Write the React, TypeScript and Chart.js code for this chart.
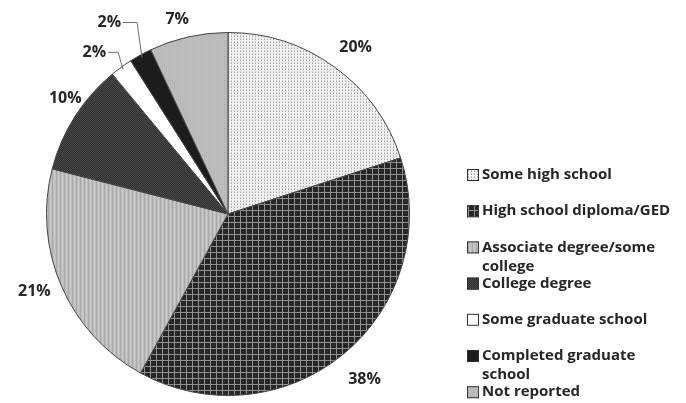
import React, { useEffect, useRef } from 'react';
import { Chart, registerables } from 'chart.js';

Chart.register(...registerables);

// ---- data ----
const categories = [
  'Some high school',
  'High school diploma/GED',
  'Associate degree/some college',
  'College degree',
  'Some graduate school',
  'Completed graduate school',
  'Not reported',
];
const legendLines = [
  ['Some high school'],
  ['High school diploma/GED'],
  ['Associate degree/some', 'college'],
  ['College degree'],
  ['Some graduate school'],
  ['Completed graduate', 'school'],
  ['Not reported'],
];
const values = [20, 38, 21, 10, 2, 2, 7];
const valueLabels = ['20%', '38%', '21%', '10%', '2%', '2%', '7%'];

// ---- styling ----
const labelRadius = [1.155, 1.18, 1.15, 1.1, 1.077, 1.168, 1.11];
const labelShiftDeg = [1.5, 0, 1.5, 3, 1.8, 3.4, -2];
const leaderLen = [0, 0, 0, 0, 10, 14, 0];
const FONT = '"Open Sans", Lato, sans-serif';
const TEXT = '#262626';

function tile(w: number, h: number, draw: (c: CanvasRenderingContext2D) => void): CanvasPattern | string {
  const cv = document.createElement('canvas');
  cv.width = w;
  cv.height = h;
  const c = cv.getContext('2d')!;
  draw(c);
  const ctx = document.createElement('canvas').getContext('2d')!;
  return ctx.createPattern(cv, 'repeat') || '#ccc';
}

function makePatterns() {
  return [
    tile(3, 3, (c) => {
      c.fillStyle = '#f1f1f1';
      c.fillRect(0, 0, 3, 3);
      c.fillStyle = '#a4a4a4';
      c.fillRect(0, 0, 1, 1);
      c.fillStyle = '#cccccc';
      c.fillRect(0, 2, 1, 1);
    }),
    tile(6, 6, (c) => {
      c.fillStyle = '#262626';
      c.fillRect(0, 0, 6, 6);
      c.fillStyle = '#909090';
      c.fillRect(0, 0, 1, 6);
      c.fillRect(0, 0, 6, 1);
    }),
    tile(4, 4, (c) => {
      c.fillStyle = '#bebebe';
      c.fillRect(0, 0, 4, 4);
      c.fillStyle = '#a8a8a8';
      c.fillRect(0, 0, 1, 4);
      c.fillStyle = '#c8c8c8';
      c.fillRect(2, 0, 1, 4);
    }),
    tile(2, 2, (c) => {
      c.fillStyle = '#2e2e2e';
      c.fillRect(0, 0, 2, 2);
      c.fillStyle = '#4a4a4a';
      c.fillRect(0, 0, 1, 1);
      c.fillRect(1, 1, 1, 1);
    }),
    '#ffffff',
    '#1c1c1c',
    tile(2, 2, (c) => {
      c.fillStyle = '#bdbdbd';
      c.fillRect(0, 0, 2, 2);
      c.fillStyle = '#b3b3b3';
      c.fillRect(0, 0, 1, 1);
    }),
  ];
}

const labelPlugin = {
  id: 'pctLabels',
  afterDatasetsDraw(chart: any) {
    const meta = chart.getDatasetMeta(0);
    const ctx: CanvasRenderingContext2D = chart.ctx;
    ctx.save();
    ctx.font = `bold 16px ${FONT}`;
    ctx.fillStyle = TEXT;
    ctx.textBaseline = 'middle';
    meta.data.forEach((arc: any, i: number) => {
      const p = arc.getProps(['x', 'y', 'startAngle', 'endAngle', 'outerRadius'], true);
      const mid = (p.startAngle + p.endAngle) / 2;
      const ang = mid + (labelShiftDeg[i] * Math.PI) / 180;
      const r = p.outerRadius * labelRadius[i];
      const lx = p.x + Math.cos(ang) * r;
      const ly = p.y + Math.sin(ang) * r;
      if (leaderLen[i]) {
        const ex = p.x + Math.cos(mid) * (p.outerRadius - 3);
        const ey = p.y + Math.sin(mid) * (p.outerRadius - 3);
        ctx.strokeStyle = '#707070';
        ctx.lineWidth = 1;
        ctx.beginPath();
        ctx.moveTo(ex, ey);
        ctx.lineTo(lx, ly);
        ctx.lineTo(lx - leaderLen[i], ly);
        ctx.stroke();
        ctx.textAlign = 'right';
        ctx.fillText(valueLabels[i], lx - leaderLen[i] - 2, ly);
      } else {
        ctx.textAlign = 'center';
        ctx.fillText(valueLabels[i], lx, ly);
      }
    });
    ctx.restore();
  },
};

function legendPlugin(patterns: (CanvasPattern | string)[]) {
  return {
    id: 'sideLegend',
    afterDraw(chart: any) {
      const ctx: CanvasRenderingContext2D = chart.ctx;
      ctx.save();
      ctx.font = `bold 15px ${FONT}`;
      ctx.textBaseline = 'middle';
      ctx.textAlign = 'left';
      const x0 = 467;
      const y0 = 175;
      const step = 36.2;
      legendLines.forEach((lines, i) => {
        const y = y0 + i * step;
        ctx.fillStyle = patterns[i] as any;
        ctx.fillRect(x0, y - 6, 12, 12);
        ctx.strokeStyle = '#333';
        ctx.lineWidth = 1;
        ctx.strokeRect(x0 + 0.5, y - 5.5, 11, 11);
        ctx.fillStyle = TEXT;
        lines.forEach((t, k) => ctx.fillText(t, x0 + 15, y + k * 19));
      });
      ctx.restore();
    },
  };
}

export default function App() {
  const ref = useRef<HTMLCanvasElement>(null);
  useEffect(() => {
    document.body.style.margin = '0';
    let chart: Chart | null = null;
    let cancelled = false;
    const build = () => {
      if (cancelled || !ref.current) return;
      const patterns = makePatterns();
      chart = new Chart(ref.current, {
        type: 'pie',
        data: {
          labels: categories,
          datasets: [
            {
              data: values,
              backgroundColor: patterns as any,
              borderColor: '#454545',
              borderWidth: 1,
            },
          ],
        },
        options: {
          responsive: false,
          animation: false,
          layout: { padding: { left: 46, right: 276, top: 32, bottom: 7 } },
          plugins: { legend: { display: false }, tooltip: { enabled: false } },
        },
        plugins: [labelPlugin as any, legendPlugin(patterns) as any],
      });
    };
    const fl = (document as any).fonts;
    if (fl && fl.load) {
      Promise.all([fl.load(`bold 16px "Open Sans"`), fl.load(`bold 15px "Open Sans"`)]).then(build, build);
    } else build();
    return () => {
      cancelled = true;
      if (chart) chart.destroy();
    };
  }, []);
  return <canvas ref={ref} width={686} height={403} style={{ display: 'block' }} />;
}
